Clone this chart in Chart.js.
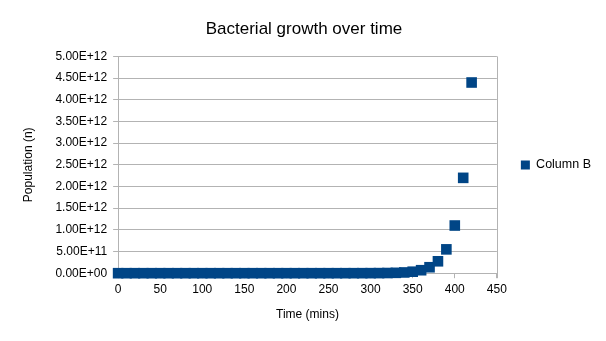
<!DOCTYPE html>
<html>
<head>
<meta charset="utf-8">
<script src="https://cdn.jsdelivr.net/npm/chart.js@4.4.0/dist/chart.umd.min.js"></script>
<style>
  html, body { margin: 0; padding: 0; background: #ffffff; }
  #wrap { width: 606px; height: 341px; }
</style>
</head>
<body>
<div id="wrap"><canvas id="chart" width="606" height="341"></canvas></div>
<script>
// time in minutes
var times = [0, 10, 20, 30, 40, 50, 60, 70, 80, 90, 100, 110, 120, 130, 140, 150, 160, 170, 180, 190,
  200, 210, 220, 230, 240, 250, 260, 270, 280, 290, 300, 310, 320, 330, 340, 350, 360, 370, 380, 390,
  400, 410, 420];

// population (n)
var population = [1, 2, 4, 8, 16, 32, 64, 128, 256, 512, 1024, 2048, 4096, 8192, 16384, 32768,
  65536, 131072, 262144, 524288, 1048576, 2097152, 4194304, 8388608, 16777216, 33554432,
  67108864, 134217728, 268435456, 536870912, 1073741824, 2147483648, 4294967296,
  8589934592, 17179869184, 34359738368, 68719476736, 137438953472, 274877906944,
  549755813888, 1099511627776, 2199023255552, 4398046511104];

var seriesName = 'Column B';
var chartTitle = 'Bacterial growth over time';
var xTitle = 'Time (mins)';
var yTitle = 'Population (n)';

var points = times.map(function(t, i) {
    return { x: t, y: population[i] };
});

// 1.00E+12 style labels
function sciLabel(v) {
    var s = Number(v).toExponential(2).toUpperCase();
    var parts = s.split('E');
    var sign = parts[1].charAt(0);
    var exp = parts[1].slice(1);
    if (exp.length < 2) exp = '0' + exp;
    return parts[0] + 'E' + sign + exp;
}

var fontFam = '"Liberation Sans", Arial, sans-serif';
var gridCol = '#b3b3b3';

new Chart(document.getElementById('chart'), {
    type: 'scatter',
    data: {
        datasets: [{
            label: seriesName,
            data: points,
            pointStyle: 'rect',
            pointRadius: 7.5,
            pointHoverRadius: 7.5,
            backgroundColor: '#004586',
            borderColor: '#004586',
            borderWidth: 0,
            clip: false
        }]
    },
    options: {
        responsive: false,
        animation: false,
        layout: { padding: { left: 7, right: 5, top: 4, bottom: 15 } },
        plugins: {
            title: {
                display: true,
                text: chartTitle,
                color: '#000000',
                font: { family: fontFam, size: 17, weight: 'normal' },
                padding: { top: 15, bottom: 17 }
            },
            legend: {
                position: 'right',
                labels: {
                    usePointStyle: true,
                    pointStyle: 'rect',
                    boxWidth: 9,
                    boxHeight: 9,
                    color: '#000000',
                    font: { family: fontFam, size: 12.5 },
                    padding: 24
                }
            },
            tooltip: { enabled: false }
        },
        scales: {
            x: {
                type: 'linear',
                min: 0,
                max: 450,
                ticks: {
                    stepSize: 50,
                    color: '#000000',
                    font: { family: fontFam, size: 12 },
                    maxRotation: 0,
                    padding: 4
                },
                grid: {
                    display: true,
                    drawOnChartArea: false,
                    color: gridCol,
                    tickLength: 5
                },
                border: { color: gridCol },
                title: {
                    display: true,
                    text: xTitle,
                    color: '#000000',
                    font: { family: fontFam, size: 12 },
                    padding: { top: 7 }
                }
            },
            y: {
                type: 'linear',
                min: 0,
                max: 5e12,
                ticks: {
                    stepSize: 5e11,
                    color: '#000000',
                    font: { family: fontFam, size: 12 },
                    padding: 6,
                    callback: function(v) { return sciLabel(v); }
                },
                grid: {
                    color: gridCol,
                    tickLength: 5
                },
                border: { color: gridCol },
                title: {
                    display: true,
                    text: yTitle,
                    color: '#000000',
                    font: { family: fontFam, size: 12 },
                    padding: { top: 14, bottom: 14 }
                }
            }
        }
    },
    plugins: [{
        id: 'rightBorder',
        afterDraw: function(chart) {
            var a = chart.chartArea, ctx = chart.ctx;
            ctx.save();
            ctx.strokeStyle = gridCol;
            ctx.lineWidth = 1;
            ctx.beginPath();
            ctx.moveTo(Math.round(a.right) + 0.5, a.top);
            ctx.lineTo(Math.round(a.right) + 0.5, a.bottom + 5);
            ctx.stroke();
            ctx.restore();
        }
    }]
});
</script>
</body>
</html>
